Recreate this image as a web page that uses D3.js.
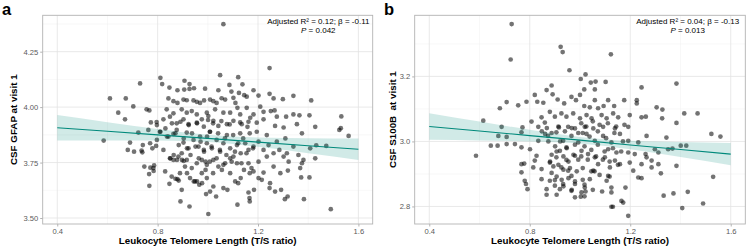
<!DOCTYPE html>
<html>
<head>
<meta charset="utf-8">
<script src="https://cdn.jsdelivr.net/npm/d3@7"></script>
<style>
body { margin: 0; background: #fff; }
text { font-family: "Liberation Sans", Arial, sans-serif; }
</style>
</head>
<body>
<svg id="chart" width="747" height="247"></svg>
<script>
// Leukocyte telomere length (T/S ratio) vs CSF GFAP at visit 1
var gfapPoints = [
  [1.062,4.374],[1.246,4.176],[0.610,4.039],[0.673,4.039],[0.730,4.107],[0.703,4.003],[0.756,3.990],[0.767,3.985],
  [0.643,3.975],[0.670,3.945],[0.811,4.132],[0.818,4.104],[0.907,4.119],[0.847,4.088],[0.879,4.076],[0.906,4.079],
  [0.927,4.082],[0.945,4.085],[0.927,4.104],[0.989,4.083],[1.049,4.144],[1.042,4.076],[1.086,4.100],[1.094,4.070],
  [1.121,4.135],[1.138,4.103],[1.145,4.054],[1.124,4.064],[1.182,4.076],[1.155,4.047],[1.202,4.052],[1.246,4.060],
  [1.262,4.039],[1.299,4.036],[1.341,4.051],[1.412,4.030],[1.532,3.958],[1.341,3.967],[1.365,3.963],[1.405,3.963],
  [1.312,3.957],[1.428,3.911],[1.530,3.905],[0.843,4.039],[0.863,4.027],[0.879,4.019],[0.903,4.034],[0.916,4.031],
  [0.943,4.030],[0.956,4.024],[0.969,4.019],[0.985,4.030],[1.009,4.034],[1.022,4.027],[1.035,4.019],[1.055,4.040],
  [1.069,4.034],[1.102,4.042],[1.110,4.019],[1.118,3.997],[1.155,3.997],[1.209,4.002],[1.222,3.979],[1.251,3.982],
  [1.266,3.985],[1.275,3.957],[0.836,3.990],[0.863,3.972],[0.896,3.990],[0.916,3.975],[0.936,3.982],[0.956,3.967],
  [0.996,3.975],[1.029,3.990],[1.062,3.975],[1.089,3.975],[1.129,3.967],[1.169,3.952],[1.195,3.930],[1.182,3.967],
  [1.222,3.945],[0.796,3.933],[0.823,3.945],[0.849,3.957],[0.876,3.927],[0.903,3.945],[0.923,3.923],[0.956,3.930],
  [0.976,3.945],[1.002,3.960],[1.022,3.938],[1.042,3.915],[1.076,3.923],[1.102,3.938],[1.135,3.923],[1.158,3.911],
  [1.302,3.908],[1.355,3.923],[1.268,3.915],
  [0.585,3.849],[0.690,3.840],[0.681,3.807],[0.706,3.799],[0.736,3.804],[0.747,3.732],[0.766,3.698],[0.767,3.645],
  [0.786,3.737],[0.783,3.725],[0.770,3.837],[0.794,3.825],[0.823,3.807],[0.849,3.769],[0.863,3.762],[0.883,3.777],
  [0.896,3.792],[0.843,3.867],[0.863,3.879],[0.809,3.889],[0.903,3.840],[0.923,3.814],[0.943,3.852],[0.963,3.822],
  [0.969,3.867],[0.985,3.799],[0.996,3.837],[1.016,3.814],[1.035,3.852],[1.049,3.799],[1.062,3.837],[1.076,3.874],
  [1.089,3.814],[1.102,3.777],[1.116,3.829],[1.131,3.792],[1.149,3.837],[1.162,3.807],[1.182,3.822],[1.202,3.844],
  [1.222,3.807],[1.242,3.829],[1.262,3.792],[1.285,3.807],[1.302,3.777],[1.322,3.754],[1.341,3.822],[1.361,3.784],
  [1.375,3.747],[1.375,3.882],[1.408,3.814],[1.428,3.769],[1.432,3.828],[1.524,3.897],[1.561,3.870],[1.472,3.825],
  [1.381,3.762],[1.368,3.725],[1.372,3.683],[1.405,3.683],[1.383,3.585],[1.490,3.540],[1.319,3.714],[1.318,3.597],
  [1.307,3.585],[1.292,3.627],[1.268,3.619],[1.246,3.635],[1.248,3.657],[1.215,3.672],[1.222,3.705],[1.202,3.680],
  [1.184,3.627],[1.162,3.615],[1.166,3.590],[1.118,3.560],[1.131,3.680],[1.109,3.665],[1.089,3.702],[1.078,3.627],
  [1.056,3.717],[1.033,3.597],[1.022,3.642],[1.009,3.619],[1.002,3.518],[0.996,3.680],[0.976,3.702],[0.966,3.650],
  [0.949,3.665],[0.929,3.680],[0.927,3.552],[0.909,3.732],[0.896,3.627],[0.891,3.575],[0.879,3.675],[0.856,3.687],
  [0.847,3.654],[0.830,3.710],[0.889,3.702],[0.916,3.762],[0.936,3.725],[0.956,3.747],[0.976,3.762],[0.996,3.740],
  [1.022,3.762],[1.042,3.732],[1.069,3.747],[1.089,3.769],[1.116,3.747],[1.144,3.717],[1.162,3.747],[1.182,3.710],
  [1.202,3.754],[1.235,3.777],[1.262,3.732],[1.289,3.702],[1.315,3.792],[1.275,3.844],[1.309,3.859],[0.763,3.897],
  [0.723,3.885],[0.876,3.897],[0.916,3.885],[1.009,3.889],[1.129,3.882],[1.195,3.889],[1.235,3.874],
  [1.001,3.942],[1.021,3.927],[1.054,3.937],[1.087,3.922],[1.129,3.931],[1.162,3.934],[1.008,3.889],[1.041,3.882],
  [1.068,3.859],[1.101,3.874],[1.121,3.837],[1.141,3.859],[1.167,3.882],[1.015,3.822],[1.048,3.807],[1.074,3.784],
  [1.108,3.799],[1.154,3.792],[1.180,3.814],[1.008,3.754],[1.035,3.769],[1.062,3.740],[1.095,3.754],[1.134,3.747],
  [1.174,3.725],[1.021,3.702],[1.167,3.702],[1.062,3.635],[1.121,3.657],[1.167,3.575],
  [0.811,3.889],[0.831,3.904],[0.857,3.927],[0.891,3.934],[0.924,3.919],[0.957,3.927],[0.984,3.912],[0.837,3.867],
  [0.871,3.882],[0.904,3.859],[0.937,3.882],[0.971,3.844],[0.997,3.867],[0.884,3.829],[0.917,3.814],[0.951,3.822],
  [0.984,3.807],[0.864,3.784],[0.897,3.762],[0.931,3.784],[0.964,3.769],[0.991,3.754],[0.851,3.769],[0.877,3.762],
  [0.904,3.757],[0.917,3.702],[0.957,3.665],[0.991,3.717],[0.871,3.677],[0.884,3.669],[0.944,3.665],[0.977,3.657],
  [0.993,3.608],[0.771,3.727],[0.784,3.712],[0.779,3.814],[0.797,3.852],[0.741,3.829],[0.739,3.796],[0.773,3.931],
  [0.797,3.919]
];

// Leukocyte telomere length (T/S ratio) vs CSF S100B at visit 1
var s100bPoints = [
  [0.728,3.361],[0.724,3.252],[0.923,3.291],[0.931,3.275],[1.123,3.268],[0.958,3.219],[1.384,3.178],[1.245,3.166],
  [1.022,3.206],[1.003,3.192],[1.043,3.181],[1.062,3.184],[1.102,3.183],[1.017,3.160],[1.059,3.160],[0.887,3.172],
  [0.867,3.158],[0.820,3.143],[0.787,3.122],[0.708,3.121],[0.754,3.111],[0.681,3.102],[0.830,3.122],[0.854,3.119],
  [0.891,3.145],[0.911,3.129],[0.937,3.117],[0.966,3.137],[0.984,3.127],[1.000,3.143],[1.017,3.109],[1.039,3.105],
  [1.059,3.127],[1.072,3.102],[1.094,3.109],[1.112,3.127],[1.136,3.109],[1.176,3.127],[1.226,3.127],[1.226,3.117],
  [1.305,3.105],[1.328,3.098],[1.415,3.086],[1.468,3.086],[1.384,3.057],[1.327,3.071],[1.245,3.074],[1.262,3.076],
  [1.198,3.081],[1.152,3.074],[1.132,3.086],[1.106,3.071],[1.086,3.081],[1.046,3.071],[1.026,3.081],[1.000,3.071],
  [0.973,3.086],[0.946,3.076],[0.926,3.086],[0.900,3.076],[0.880,3.091],[0.847,3.074],[0.807,3.061],[0.771,3.043],
  [0.688,3.045],[0.615,3.064],[0.916,3.043],[0.953,3.045],[0.980,3.040],[1.019,3.045],[1.053,3.040],[1.092,3.045],
  [1.139,3.040],[1.192,3.045],[0.834,3.045],[0.860,3.058],
  [0.586,2.956],[0.645,2.987],[0.672,2.987],[0.708,2.992],[0.741,2.992],[0.767,2.982],[0.801,2.976],[0.675,3.017],
  [0.708,3.014],[0.767,3.028],[0.834,3.002],[0.873,3.017],[0.906,3.028],[0.933,3.002],[0.966,3.017],[0.993,2.997],
  [1.026,3.023],[1.059,3.002],[1.092,3.017],[1.125,2.997],[1.159,3.023],[1.192,3.002],[1.232,2.997],[1.265,3.017],
  [1.298,2.976],[1.344,3.012],[1.351,2.976],[1.368,2.978],[1.401,2.987],[1.423,2.987],[1.523,3.023],[1.559,3.015],
  [1.530,2.891],[1.490,2.809],[1.407,2.795],[1.429,2.845],[1.372,2.840],[1.333,2.833],[1.384,2.925],[1.322,2.902],
  [1.312,2.930],[1.285,2.941],[1.265,2.951],[1.245,2.930],[1.232,2.889],[1.245,2.887],[1.212,2.910],[1.192,2.771],
  [1.181,2.858],[1.165,2.817],[1.172,2.812],[1.125,2.799],[1.131,2.799],[1.125,2.858],[1.125,2.843],[1.112,2.894],
  [1.159,2.930],[1.139,2.941],[1.119,2.920],[1.099,2.951],[1.059,2.951],[1.072,2.930],[1.053,2.910],[1.039,2.884],
  [1.019,2.858],[1.006,2.843],[1.022,2.846],[1.003,2.830],[0.980,2.869],[0.966,2.894],[0.953,2.910],[0.926,2.920],
  [0.933,2.869],[0.920,2.853],[0.900,2.864],[0.900,2.881],[0.880,2.879],[0.867,2.853],[0.867,2.836],[0.907,2.836],
  [0.847,2.884],[0.847,2.915],[0.880,2.935],[0.906,2.951],[0.946,2.943],[0.980,2.956],[1.006,2.971],[1.032,2.961],
  [1.106,2.879],[0.966,2.848],[0.980,2.828],[0.767,2.930],[0.778,2.932],[0.767,2.905],[0.780,2.879],[0.785,2.869],
  [0.791,2.853],[0.827,2.956],[0.820,2.941],[0.814,2.920],[1.192,2.966],[1.218,2.961],[1.261,2.961],[1.285,2.920],
  [0.946,2.982],[0.920,2.971],[1.112,2.976],[1.145,2.966],[1.198,2.935],[1.312,2.966],
  [0.848,3.031],[0.868,3.041],[0.887,3.026],[0.914,3.046],[0.940,3.031],[0.967,3.041],[0.993,3.026],[0.874,3.000],
  [0.901,2.985],[0.921,3.000],[0.947,2.979],[0.980,2.990],[0.887,2.959],[0.907,2.969],[0.934,2.954],[0.954,2.938],
  [0.974,2.959],[0.993,2.944],[0.881,2.938],[0.894,2.923],[0.914,2.928],[0.934,2.913],[0.960,2.918],[0.987,2.908],
  [0.887,2.903],[0.907,2.892],[0.927,2.882],[0.954,2.887],[0.980,2.877],[0.934,2.862],[0.967,2.851],[0.861,3.023],
  [1.005,3.056],[1.025,3.046],[1.051,3.062],[1.078,3.051],[1.111,3.056],[1.144,3.046],[1.177,3.051],[1.011,3.026],
  [1.038,3.015],[1.071,3.031],[1.104,3.010],[1.137,3.026],[1.171,3.000],[1.018,2.985],[1.045,2.974],[1.071,2.990],
  [1.098,2.969],[1.131,2.979],[1.164,2.969],[1.005,2.954],[1.031,2.944],[1.064,2.954],[1.091,2.944],[1.118,2.938],
  [1.151,2.928],[1.011,2.918],[1.045,2.908],[1.078,2.897],[1.118,2.892],[1.011,2.882],[1.018,2.867],[1.058,2.908],
  [1.088,2.846],[1.018,2.831],[1.051,2.851]
];

// fitted line and 95% band, read at these T/S values
var fitGrid = [0.4, 0.6, 0.8, 1.0, 1.2, 1.4, 1.6];
var gfapFit   = [3.907, 3.891, 3.875, 3.859, 3.842, 3.826, 3.810];
var gfapLower = [3.850, 3.850, 3.849, 3.843, 3.821, 3.792, 3.762];
var gfapUpper = [3.964, 3.932, 3.901, 3.875, 3.863, 3.860, 3.858];
var s100bFit   = [3.046, 3.032, 3.018, 3.004, 2.989, 2.975, 2.961];
var s100bLower = [3.005, 3.003, 3.000, 2.994, 2.976, 2.952, 2.927];
var s100bUpper = [3.087, 3.061, 3.036, 3.014, 3.002, 2.998, 2.995];

// ticks
var xTicks = [0.4, 0.8, 1.2, 1.6];
var xMinor = [0.6, 1.0, 1.4];
var gfapTicks = [3.50, 3.75, 4.00, 4.25];
var gfapMinor = [3.625, 3.875, 4.125, 4.375];
var s100bTicks = [2.8, 3.0, 3.2];
var s100bMinor = [2.9, 3.1, 3.3];

var svg = d3.select("#chart");
var teal = "#00897b";

function drawPanel(cfg) {
  var x = d3.scaleLinear().domain(cfg.xDomain).range([cfg.left, cfg.right]);
  var y = d3.scaleLinear().domain(cfg.yDomain).range([cfg.bottom, cfg.top]);
  var g = svg.append("g");

  // minor then major grid
  g.selectAll(".vminor").data(xMinor).enter().append("line")
    .attr("x1", x).attr("x2", x).attr("y1", cfg.top).attr("y2", cfg.bottom)
    .attr("stroke", "#f0f0f0").attr("stroke-width", 0.5);
  g.selectAll(".hminor").data(cfg.yMinor).enter().append("line")
    .attr("y1", y).attr("y2", y).attr("x1", cfg.left).attr("x2", cfg.right)
    .attr("stroke", "#f0f0f0").attr("stroke-width", 0.5);
  g.selectAll(".vmajor").data(xTicks).enter().append("line")
    .attr("x1", x).attr("x2", x).attr("y1", cfg.top).attr("y2", cfg.bottom)
    .attr("stroke", "#e3e3e3").attr("stroke-width", 0.8);
  g.selectAll(".hmajor").data(cfg.yTicks).enter().append("line")
    .attr("y1", y).attr("y2", y).attr("x1", cfg.left).attr("x2", cfg.right)
    .attr("stroke", "#e3e3e3").attr("stroke-width", 0.8);

  // points
  g.selectAll("circle").data(cfg.points).enter().append("circle")
    .attr("cx", function (d) { return x(d[0]); })
    .attr("cy", function (d) { return y(d[1]); })
    .attr("r", 2.35)
    .attr("fill", "#000")
    .attr("fill-opacity", 0.55);

  // confidence band
  var band = d3.area()
    .x(function (d, i) { return x(fitGrid[i]); })
    .y0(function (d, i) { return y(cfg.lower[i]); })
    .y1(function (d, i) { return y(cfg.upper[i]); })
    .curve(d3.curveMonotoneX);
  g.append("path").datum(fitGrid).attr("d", band)
    .attr("fill", teal).attr("fill-opacity", 0.18);

  var line = d3.line()
    .x(function (d, i) { return x(fitGrid[i]); })
    .y(function (d) { return y(d); });
  g.append("path").datum(cfg.fit).attr("d", line)
    .attr("fill", "none").attr("stroke", teal).attr("stroke-width", 1.1);

  // panel border
  g.append("rect")
    .attr("x", cfg.left).attr("y", cfg.top)
    .attr("width", cfg.right - cfg.left).attr("height", cfg.bottom - cfg.top)
    .attr("fill", "none").attr("stroke", "#b3b3b3").attr("stroke-width", 0.9);

  // axes
  var xAxis = g.append("g")
    .attr("transform", "translate(0," + cfg.bottom + ")")
    .call(d3.axisBottom(x).tickValues(xTicks).tickSize(2.5).tickPadding(2).tickFormat(d3.format(".1f")));
  var yAxis = g.append("g")
    .attr("transform", "translate(" + cfg.left + ",0)")
    .call(d3.axisLeft(y).tickValues(cfg.yTicks).tickSize(2.5).tickPadding(2).tickFormat(d3.format(cfg.yFormat)));
  [xAxis, yAxis].forEach(function (a) {
    a.select(".domain").remove();
    a.selectAll(".tick line").attr("stroke", "#b3b3b3");
    a.selectAll(".tick text").attr("fill", "#5a5a5a").style("font-size", "7.6px")
      .style("font-family", "Liberation Sans, Arial, sans-serif");
  });

  // axis titles
  g.append("text")
    .attr("x", (cfg.left + cfg.right) / 2).attr("y", 243.5)
    .attr("text-anchor", "middle").style("font-size", "9.8px").style("font-weight", "bold")
    .text("Leukocyte Telomere Length (T/S ratio)");
  g.append("text")
    .attr("transform", "translate(" + cfg.yTitleX + "," + ((cfg.top + cfg.bottom) / 2) + ") rotate(-90)")
    .attr("text-anchor", "middle").style("font-size", "9.8px").style("font-weight", "bold")
    .style("white-space", "pre")
    .text(cfg.yTitle);

  // panel letter
  g.append("text")
    .attr("x", cfg.letterX).attr("y", 15)
    .style("font-size", "16.5px").style("font-weight", "bold")
    .text(cfg.letter);

  // stats annotation
  var ax = cfg.annX;
  g.append("text")
    .attr("x", ax).attr("y", 23.8).attr("text-anchor", "middle")
    .style("font-size", "8px")
    .text(cfg.stats1);
  var t2 = g.append("text")
    .attr("x", ax).attr("y", 32.6).attr("text-anchor", "middle")
    .style("font-size", "8px");
  t2.append("tspan").style("font-style", "italic").text("P");
  t2.append("tspan").text(" = " + cfg.pValue);
}

drawPanel({
  letter: "a", letterX: 2,
  left: 42.7, right: 372.7, top: 15.3, bottom: 224,
  xDomain: [0.342, 1.657], yDomain: [3.473, 4.414],
  yTicks: gfapTicks, yMinor: gfapMinor, yFormat: ".2f",
  points: gfapPoints, fit: gfapFit, lower: gfapLower, upper: gfapUpper,
  yTitle: "CSF GFAP at visit 1", yTitleX: 17,
  annX: 318.3, stats1: "Adjusted R\u00b2 = 0.12; \u03b2 = -0.11", pValue: "0.042"
});

drawPanel({
  letter: "b", letterX: 384,
  left: 414.7, right: 745.3, top: 15.3, bottom: 224,
  xDomain: [0.342, 1.658], yDomain: [2.746, 3.388],
  yTicks: s100bTicks, yMinor: s100bMinor, yFormat: ".1f",
  points: s100bPoints, fit: s100bFit, lower: s100bLower, upper: s100bUpper,
  yTitle: "CSF S100B  at visit 1", yTitleX: 396,
  annX: 687.7, stats1: "Adjusted R\u00b2 = 0.04; \u03b2 = -0.13", pValue: "0.013"
});
</script>
</body>
</html>
